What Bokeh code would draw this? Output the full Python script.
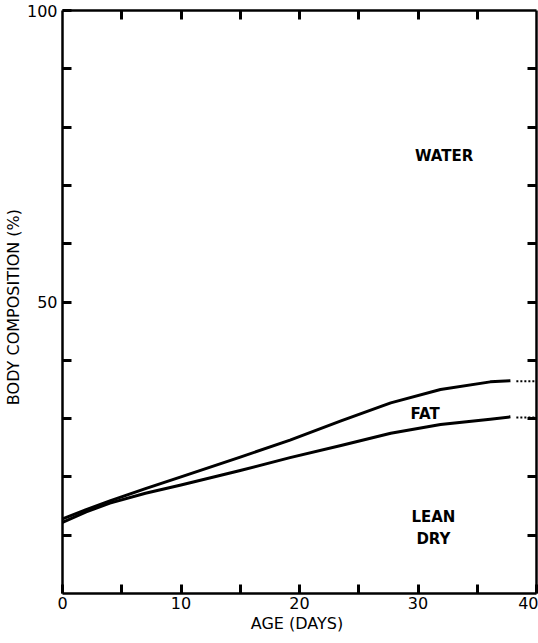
from bokeh.plotting import figure
from bokeh.models import LinearAxis, FixedTicker, Range1d
from bokeh.core.properties import value
from bokeh.embed import file_html
from bokeh.resources import INLINE

# Data
age = [0, 2, 4, 7, 10, 15, 19.2, 23.5, 27.7, 31.9, 36.1, 37.8]
fat_plus_lean = [12.8, 14.4, 15.9, 18.0, 20.0, 23.4, 26.3, 29.6, 32.7, 35.0, 36.3, 36.5]
lean_dry = [12.2, 14.0, 15.5, 17.2, 18.6, 21.1, 23.3, 25.4, 27.5, 29.0, 29.9, 30.3]
ext_age = [38.3, 40]
ext_fat = [36.4, 36.4]
ext_lean = [30.2, 30.2]

x_major = [0, 10, 20, 30, 40]
x_minor = [5, 15, 25, 35]
y_major = [50, 100]
y_minor = [10, 20, 30, 40, 60, 70, 80, 90]
x_all = [5, 10, 15, 20, 25, 30, 35]
y_all = [10, 20, 30, 40, 50, 60, 70, 80, 90]

region_names = ["WATER", "FAT", "LEAN", "DRY"]
region_x = [32.2, 30.6, 31.3, 31.3]
region_y = [75.0, 30.8, 13.1, 9.3]

FONT = "DejaVu Sans"

p = figure(width=538, height=643, output_backend="svg", toolbar_location=None,
           x_range=Range1d(0, 40), y_range=Range1d(0, 100),
           min_border_left=61, min_border_right=2, min_border_top=10, min_border_bottom=50)
p.outline_line_color = None
p.grid.visible = False
p.background_fill_color = "white"

def style_axis(ax):
    ax.axis_line_width = 2.5
    ax.axis_line_color = "black"
    for k in ("major", "minor"):
        setattr(ax, k + "_tick_in", 9)
        setattr(ax, k + "_tick_out", 0)
        setattr(ax, k + "_tick_line_width", 3)
        setattr(ax, k + "_tick_line_color", "black")
    ax.major_label_text_font = FONT
    ax.major_label_text_font_size = "16px"
    ax.major_label_text_color = "black"
    ax.axis_label_text_font = FONT
    ax.axis_label_text_font_style = "normal"
    ax.axis_label_text_font_size = "16px"
    ax.axis_label_text_color = "black"

xa = p.xaxis[0]
xa.ticker = FixedTicker(ticks=x_major, minor_ticks=x_minor)
xa.axis_label = "AGE  (DAYS)"
style_axis(xa)
xa.major_label_standoff = 3
xa.axis_label_standoff = 2

ya = p.yaxis[0]
ya.ticker = FixedTicker(ticks=y_major, minor_ticks=y_minor)
ya.axis_label = "BODY  COMPOSITION  (%)"
style_axis(ya)
ya.major_label_standoff = 5
ya.axis_label_standoff = 1

ra = LinearAxis(ticker=FixedTicker(ticks=[], minor_ticks=y_all))
style_axis(ra)
ra.major_label_standoff = 0
p.add_layout(ra, "right")
ta = LinearAxis(ticker=FixedTicker(ticks=[], minor_ticks=x_all))
style_axis(ta)
ta.major_label_standoff = 0
p.add_layout(ta, "above")

p.line(age, fat_plus_lean, line_width=3, line_color="black", line_join="round")
p.line(age, lean_dry, line_width=3, line_color="black", line_join="round")
p.line(ext_age, ext_fat, line_width=2, line_color="black", line_dash="2 2")
p.line(ext_age, ext_lean, line_width=2, line_color="black", line_dash="2 2")

p.text(region_x, region_y, text=region_names, text_font=value(FONT),
       text_font_size="15px", text_font_style="bold", text_align="center",
       text_baseline="middle", text_color="black")

open("out.html", "w").write(file_html(p, INLINE))
